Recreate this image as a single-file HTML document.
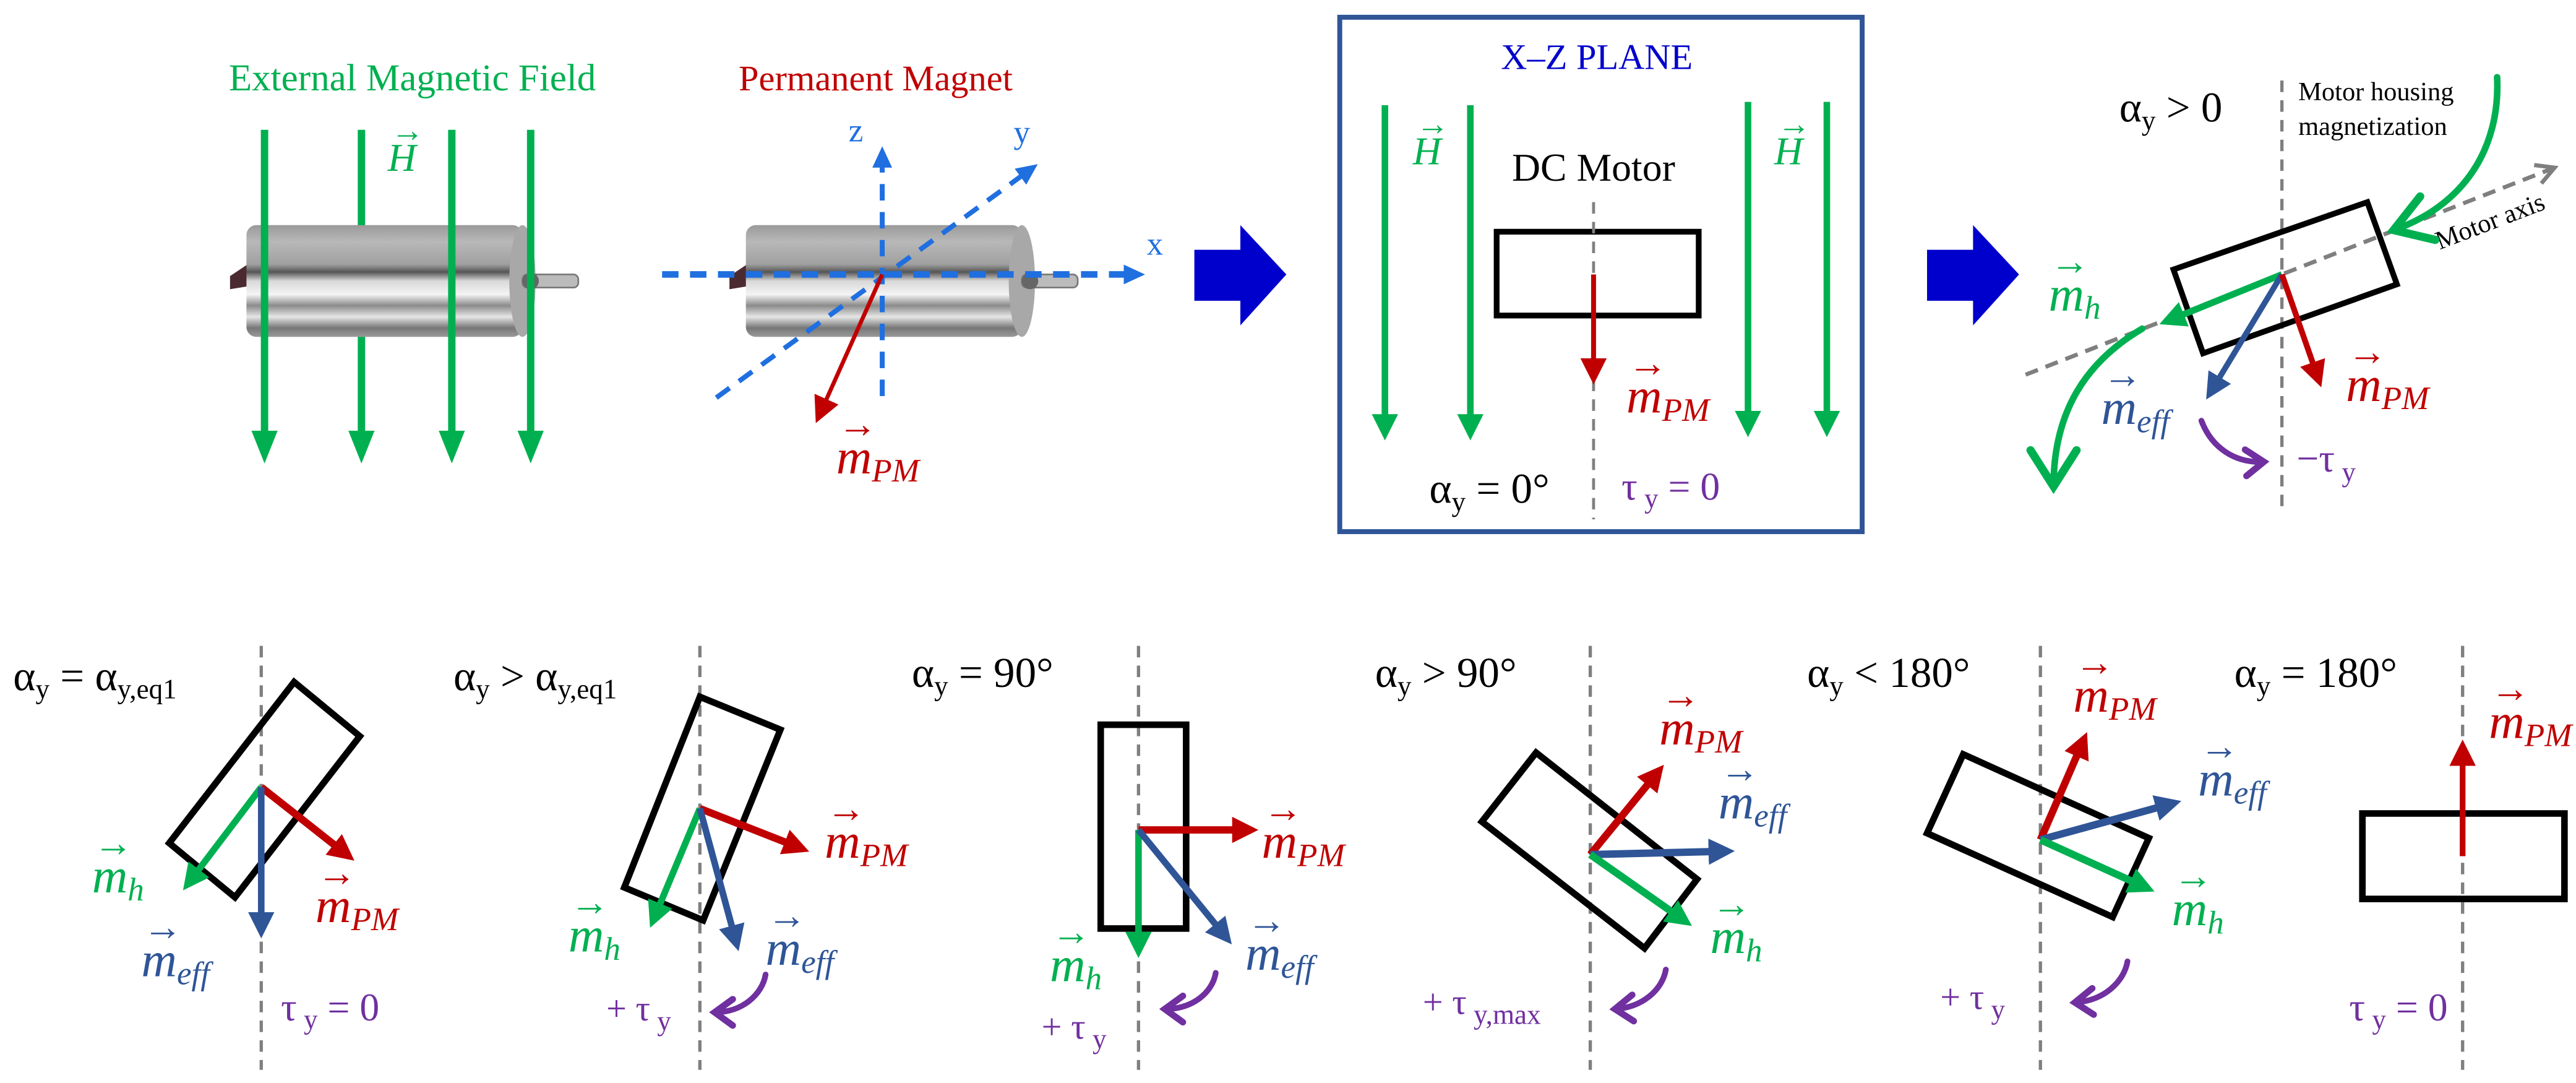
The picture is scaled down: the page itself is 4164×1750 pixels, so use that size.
<!DOCTYPE html>
<html><head><meta charset="utf-8"><style>
html,body{margin:0;padding:0;background:#fff;}
svg{display:block}
text{font-family:"Liberation Serif",serif;}
.mi{font-style:italic;font-size:30px}
.sb{font-size:20px}
.ar{font-size:24px}
.al{font-size:26px;fill:#000}
.alsub{font-size:17px}
</style></head><body>
<svg width="4164" height="1750" viewBox="0 0 1568 659" xmlns="http://www.w3.org/2000/svg">
<defs>
<marker id="mg" markerUnits="userSpaceOnUse" markerWidth="20" markerHeight="20" refX="10" refY="8" orient="auto"><path d="M0,0 L16,8 L0,16 z" fill="#00b050"/></marker>
<marker id="mr" markerUnits="userSpaceOnUse" markerWidth="20" markerHeight="20" refX="10" refY="8" orient="auto"><path d="M0,0 L16,8 L0,16 z" fill="#c00000"/></marker>
<marker id="mb" markerUnits="userSpaceOnUse" markerWidth="20" markerHeight="20" refX="10" refY="8" orient="auto"><path d="M0,0 L16,8 L0,16 z" fill="#2f5597"/></marker>
<marker id="mgl" markerUnits="userSpaceOnUse" markerWidth="22" markerHeight="20" refX="12" refY="8" orient="auto"><path d="M0,0 L20,8 L0,16 z" fill="#00b050"/></marker>
<marker id="mx" markerUnits="userSpaceOnUse" markerWidth="16" markerHeight="14" refX="6" refY="6" orient="auto"><path d="M0,0 L13,6 L0,12 z" fill="#1f6fe0"/></marker>
<marker id="mgo" markerUnits="userSpaceOnUse" markerWidth="16" markerHeight="16" refX="13" refY="8" orient="auto"><path d="M2,2 L13,8 L2,14" fill="none" stroke="#7f7f7f" stroke-width="2.5"/></marker>
<marker id="mpo" markerUnits="userSpaceOnUse" markerWidth="20" markerHeight="20" refX="15" refY="10" orient="auto"><path d="M4,2 L15,10 L4,18" fill="none" stroke="#7030a0" stroke-width="4" stroke-linecap="round"/></marker>
<marker id="mgreen" markerUnits="userSpaceOnUse" markerWidth="36" markerHeight="36" refX="28" refY="18" orient="auto"><path d="M6,4 L28,18 L6,32" fill="none" stroke="#00b050" stroke-width="5" stroke-linecap="round"/></marker>
<linearGradient id="cyl" x1="0" y1="0" x2="0" y2="1">
<stop offset="0" stop-color="#9a9a9a"/><stop offset="0.15" stop-color="#b8b8b8"/><stop offset="0.35" stop-color="#a0a0a0"/>
<stop offset="0.42" stop-color="#555"/><stop offset="0.5" stop-color="#d8d8d8"/><stop offset="0.62" stop-color="#f4f4f4"/>
<stop offset="0.72" stop-color="#8a8a8a"/><stop offset="0.82" stop-color="#e6e6e6"/><stop offset="0.92" stop-color="#777"/><stop offset="1" stop-color="#9a9a9a"/>
</linearGradient>
</defs>

<!-- ============ TOP LEFT ============ -->
<text x="251" y="55" font-size="23" fill="#00b050" text-anchor="middle">External Magnetic Field</text>
<text x="533" y="55" font-size="22" fill="#c00000" text-anchor="middle">Permanent Magnet</text>

<line x1="220" y1="79" x2="220" y2="274" stroke="#00b050" stroke-width="4.5" marker-end="url(#mgl)"/>
<g>
<path d="M140,168 L152,160 L152,174 L140,176 z" fill="#4a2a30"/>
<rect x="150" y="137" width="168" height="68" rx="6" fill="url(#cyl)"/>
<ellipse cx="318" cy="171" rx="8" ry="34" fill="#a8a8a8"/>
<rect x="318" y="167" width="34" height="8" rx="3" fill="#bbb" stroke="#777" stroke-width="1"/>
<circle cx="323" cy="171" r="5" fill="#666"/>
</g>
<line x1="161" y1="79" x2="161" y2="274" stroke="#00b050" stroke-width="4.5" marker-end="url(#mgl)"/>
<line x1="275" y1="79" x2="275" y2="274" stroke="#00b050" stroke-width="4.5" marker-end="url(#mgl)"/>
<line x1="323" y1="79" x2="323" y2="274" stroke="#00b050" stroke-width="4.5" marker-end="url(#mgl)"/>
<g fill="#00b050"><text x="236" y="104" style="font-style:italic;font-size:24px">H</text><text x="238" y="86" style="font-size:20px">→</text></g>

<g>
<path d="M444,168 L456,160 L456,174 L444,176 z" fill="#4a2a30"/>
<rect x="454" y="137" width="168" height="68" rx="6" fill="url(#cyl)"/>
<ellipse cx="622" cy="171" rx="8" ry="34" fill="#a8a8a8"/>
<rect x="622" y="167" width="34" height="8" rx="3" fill="#bbb" stroke="#777" stroke-width="1"/>
<circle cx="627" cy="171" r="5" fill="#666"/>
</g>
<g stroke="#1f6fe0" stroke-width="3" stroke-dasharray="10,7" fill="none">
<line x1="537" y1="241" x2="537" y2="96" marker-end="url(#mx)"/>
<line x1="436" y1="242" x2="626" y2="104" marker-end="url(#mx)"/>
<line x1="403" y1="167" x2="690" y2="167" stroke-width="4" marker-end="url(#mx)"/>
</g>
<text x="521" y="86" font-size="20" fill="#1f6fe0" text-anchor="middle">z</text>
<text x="622" y="87" font-size="20" fill="#1f6fe0" text-anchor="middle">y</text>
<text x="703" y="155" font-size="20" fill="#1f6fe0" text-anchor="middle">x</text>
<line x1="537" y1="167" x2="499" y2="252" stroke="#c00000" stroke-width="2.5" marker-end="url(#mr)"/>
<g fill="#c00000" transform="translate(509,288)"><text class="mi">m<tspan class="sb" dy="5">PM</tspan></text><text class="ar" x="1" y="-22">→</text></g>

<polygon points="727,152 755,152 755,137 783,167 755,198 755,183 727,183" fill="#0000cc"/>

<!-- ============ X-Z PLANE BOX ============ -->
<rect x="815.5" y="10.5" width="318" height="313" fill="none" stroke="#2f5597" stroke-width="3"/>
<text x="972" y="42" font-size="22" fill="#0000cc" text-anchor="middle">X–Z  PLANE</text>
<g stroke="#00b050" stroke-width="4">
<line x1="843" y1="64" x2="843" y2="262" marker-end="url(#mg)"/>
<line x1="895" y1="64" x2="895" y2="262" marker-end="url(#mg)"/>
<line x1="1064" y1="62" x2="1064" y2="260" marker-end="url(#mg)"/>
<line x1="1112" y1="62" x2="1112" y2="260" marker-end="url(#mg)"/>
</g>
<g fill="#00b050"><text x="860" y="100" style="font-style:italic;font-size:24px">H</text><text x="862" y="82" style="font-size:20px">→</text></g>
<g fill="#00b050"><text x="1080" y="100" style="font-style:italic;font-size:24px">H</text><text x="1082" y="82" style="font-size:20px">→</text></g>
<text x="970" y="110" font-size="24" text-anchor="middle" fill="#000">DC Motor</text>
<rect x="911" y="141" width="123" height="51" fill="none" stroke="#000" stroke-width="3.5"/>
<line x1="970" y1="123" x2="970" y2="316" stroke="#7f7f7f" stroke-width="1.8" stroke-dasharray="7,5"/>
<line x1="970" y1="167" x2="970" y2="228" stroke="#c00000" stroke-width="3" marker-end="url(#mr)"/>
<g fill="#c00000" transform="translate(990,251)"><text class="mi">m<tspan class="sb" dy="5">PM</tspan></text><text class="ar" x="1" y="-22">→</text></g>
<text x="870" y="306" class="al">α<tspan class="alsub" dy="5">y</tspan><tspan dy="-5"> = 0°</tspan></text>
<text x="987" y="304" font-size="24" fill="#7030a0">τ<tspan class="alsub" dy="5"> y</tspan><tspan dy="-5"> = 0</tspan></text>

<polygon points="1173,152 1201,152 1201,137 1229,167 1201,198 1201,183 1173,183" fill="#0000cc"/>

<!-- ============ TOP RIGHT ============ -->
<line x1="1389" y1="49" x2="1389" y2="308" stroke="#7f7f7f" stroke-width="2" stroke-dasharray="7,5"/>
<text x="1290" y="74" class="al">α<tspan class="alsub" dy="5">y</tspan><tspan dy="-5"> &gt; 0</tspan></text>
<text x="1399" y="61" font-size="16" fill="#000">Motor housing</text>
<text x="1399" y="82" font-size="16" fill="#000">magnetization</text>
<line x1="1233" y1="228" x2="1555" y2="102" stroke="#7f7f7f" stroke-width="2.5" stroke-dasharray="8,5" marker-end="url(#mgo)"/>
<text x="0" y="0" font-size="16" fill="#000" transform="translate(1485,152) rotate(-21)">Motor axis</text>
<polygon points="1323,164 1441,123 1459,173 1341,215" fill="none" stroke="#000" stroke-width="3.5"/>
<path d="M1520,47 C1522,90 1500,125 1457,140" fill="none" stroke="#00b050" stroke-width="4" stroke-linecap="round" marker-end="url(#mgreen)"/>
<path d="M1304,200 C1270,220 1250,250 1250,296" fill="none" stroke="#00b050" stroke-width="4" stroke-linecap="round" marker-end="url(#mgreen)"/>
<line x1="1389" y1="167" x2="1320" y2="195" stroke="#00b050" stroke-width="4" marker-end="url(#mg)"/>
<line x1="1389" y1="167" x2="1346" y2="238" stroke="#2f5597" stroke-width="3.5" marker-end="url(#mb)"/>
<line x1="1389" y1="167" x2="1411" y2="230" stroke="#c00000" stroke-width="3.5" marker-end="url(#mr)"/>
<g fill="#00b050" transform="translate(1247,189)"><text class="mi">m<tspan class="sb" dy="5">h</tspan></text><text class="ar" x="1" y="-22">→</text></g>
<g fill="#2f5597" transform="translate(1279,258)"><text class="mi">m<tspan class="sb" dy="5">eff</tspan></text><text class="ar" x="1" y="-22">→</text></g>
<g fill="#c00000" transform="translate(1428,244)"><text class="mi">m<tspan class="sb" dy="5">PM</tspan></text><text class="ar" x="1" y="-22">→</text></g>
<path d="M1340,256 C1346,272 1360,282 1378,281" fill="none" stroke="#7030a0" stroke-width="3.5" stroke-linecap="round" marker-end="url(#mpo)"/>
<text x="1398" y="287" font-size="24" fill="#7030a0">−τ<tspan class="alsub" dy="6"> y</tspan></text>

<!-- ============ BOTTOM ROW ============ -->
<g stroke="#7f7f7f" stroke-width="2" stroke-dasharray="7,5">
<line x1="159" y1="393" x2="159" y2="651"/>
<line x1="426" y1="393" x2="426" y2="651"/>
<line x1="693" y1="393" x2="693" y2="651"/>
<line x1="968" y1="393" x2="968" y2="651"/>
<line x1="1242" y1="393" x2="1242" y2="651"/>
<line x1="1499" y1="393" x2="1499" y2="651"/>
</g>

<!-- panel 1 -->
<text x="8" y="420" class="al">α<tspan class="alsub" dy="5">y</tspan><tspan dy="-5"> = α</tspan><tspan class="alsub" dy="5">y,eq1</tspan></text>
<polygon points="179,415 219,448 143,546 103,513" fill="none" stroke="#000" stroke-width="4"/>
<line x1="159" y1="479" x2="115" y2="537" stroke="#00b050" stroke-width="4" marker-end="url(#mg)"/>
<line x1="159" y1="479" x2="211" y2="520" stroke="#c00000" stroke-width="4.5" marker-end="url(#mr)"/>
<line x1="159" y1="479" x2="159" y2="565" stroke="#2f5597" stroke-width="4" marker-end="url(#mb)"/>
<g fill="#00b050" transform="translate(56,543)"><text class="mi">m<tspan class="sb" dy="5">h</tspan></text><text class="ar" x="1" y="-22">→</text></g>
<g fill="#c00000" transform="translate(192,561)"><text class="mi">m<tspan class="sb" dy="5">PM</tspan></text><text class="ar" x="1" y="-22">→</text></g>
<g fill="#2f5597" transform="translate(86,594)"><text class="mi">m<tspan class="sb" dy="5">eff</tspan></text><text class="ar" x="1" y="-22">→</text></g>
<text x="171" y="621" font-size="24" fill="#7030a0">τ<tspan class="alsub" dy="5"> y</tspan><tspan dy="-5"> = 0</tspan></text>

<!-- panel 2 -->
<text x="276" y="420" class="al">α<tspan class="alsub" dy="5">y</tspan><tspan dy="-5"> &gt; α</tspan><tspan class="alsub" dy="5">y,eq1</tspan></text>
<polygon points="426,424 475,444 428,560 380,540" fill="none" stroke="#000" stroke-width="4"/>
<line x1="426" y1="492" x2="398" y2="559" stroke="#00b050" stroke-width="4" marker-end="url(#mg)"/>
<line x1="426" y1="492" x2="487" y2="516" stroke="#c00000" stroke-width="4.5" marker-end="url(#mr)"/>
<line x1="426" y1="492" x2="448" y2="573" stroke="#2f5597" stroke-width="4" marker-end="url(#mb)"/>
<g fill="#c00000" transform="translate(502,522)"><text class="mi">m<tspan class="sb" dy="5">PM</tspan></text><text class="ar" x="1" y="-22">→</text></g>
<g fill="#00b050" transform="translate(346,579)"><text class="mi">m<tspan class="sb" dy="5">h</tspan></text><text class="ar" x="1" y="-22">→</text></g>
<g fill="#2f5597" transform="translate(466,587)"><text class="mi">m<tspan class="sb" dy="5">eff</tspan></text><text class="ar" x="1" y="-22">→</text></g>
<path d="M466,593 C464,605 452,616 435,616" fill="none" stroke="#7030a0" stroke-width="3.5" stroke-linecap="round" marker-end="url(#mpo)"/>
<text x="369" y="621" font-size="22" fill="#7030a0">+ τ<tspan class="alsub" dy="6"> y</tspan></text>

<!-- panel 3 -->
<text x="555" y="418" class="al">α<tspan class="alsub" dy="5">y</tspan><tspan dy="-5"> = 90°</tspan></text>
<rect x="670" y="441" width="52" height="124" fill="none" stroke="#000" stroke-width="4"/>
<line x1="693" y1="505" x2="760" y2="505" stroke="#c00000" stroke-width="4.5" marker-end="url(#mr)"/>
<line x1="693" y1="505" x2="693" y2="577" stroke="#00b050" stroke-width="4" marker-end="url(#mg)"/>
<line x1="693" y1="505" x2="746" y2="570" stroke="#2f5597" stroke-width="4" marker-end="url(#mb)"/>
<g fill="#c00000" transform="translate(768,522)"><text class="mi">m<tspan class="sb" dy="5">PM</tspan></text><text class="ar" x="1" y="-22">→</text></g>
<g fill="#00b050" transform="translate(639,597)"><text class="mi">m<tspan class="sb" dy="5">h</tspan></text><text class="ar" x="1" y="-22">→</text></g>
<g fill="#2f5597" transform="translate(758,590)"><text class="mi">m<tspan class="sb" dy="5">eff</tspan></text><text class="ar" x="1" y="-22">→</text></g>
<path d="M740,592 C738,604 726,614 709,614" fill="none" stroke="#7030a0" stroke-width="3.5" stroke-linecap="round" marker-end="url(#mpo)"/>
<text x="634" y="632" font-size="22" fill="#7030a0">+ τ<tspan class="alsub" dy="6"> y</tspan></text>

<!-- panel 4 -->
<text x="837" y="418" class="al">α<tspan class="alsub" dy="5">y</tspan><tspan dy="-5"> &gt; 90°</tspan></text>
<polygon points="935,458 1033,535 1001,577 902,500" fill="none" stroke="#000" stroke-width="4"/>
<line x1="968" y1="520" x2="1009" y2="470" stroke="#c00000" stroke-width="4.5" marker-end="url(#mr)"/>
<line x1="968" y1="520" x2="1050" y2="518" stroke="#2f5597" stroke-width="4.5" marker-end="url(#mb)"/>
<line x1="968" y1="520" x2="1025" y2="560" stroke="#00b050" stroke-width="4.5" marker-end="url(#mg)"/>
<g fill="#c00000" transform="translate(1010,453)"><text class="mi">m<tspan class="sb" dy="5">PM</tspan></text><text class="ar" x="1" y="-22">→</text></g>
<g fill="#2f5597" transform="translate(1046,498)"><text class="mi">m<tspan class="sb" dy="5">eff</tspan></text><text class="ar" x="1" y="-22">→</text></g>
<g fill="#00b050" transform="translate(1041,580)"><text class="mi">m<tspan class="sb" dy="5">h</tspan></text><text class="ar" x="1" y="-22">→</text></g>
<path d="M1014,590 C1012,602 1000,613 983,614" fill="none" stroke="#7030a0" stroke-width="3.5" stroke-linecap="round" marker-end="url(#mpo)"/>
<text x="866" y="617" font-size="22" fill="#7030a0">+ τ<tspan class="alsub" dy="6"> y,max</tspan></text>

<!-- panel 5 -->
<text x="1100" y="418" class="al">α<tspan class="alsub" dy="5">y</tspan><tspan dy="-5"> &lt; 180°</tspan></text>
<polygon points="1195,459 1308,510 1286,558 1173,507" fill="none" stroke="#000" stroke-width="4"/>
<line x1="1242" y1="511" x2="1268" y2="451" stroke="#c00000" stroke-width="4.5" marker-end="url(#mr)"/>
<line x1="1242" y1="511" x2="1322" y2="489" stroke="#2f5597" stroke-width="4.5" marker-end="url(#mb)"/>
<line x1="1242" y1="511" x2="1306" y2="540" stroke="#00b050" stroke-width="4.5" marker-end="url(#mg)"/>
<g fill="#c00000" transform="translate(1262,433)"><text class="mi">m<tspan class="sb" dy="5">PM</tspan></text><text class="ar" x="1" y="-22">→</text></g>
<g fill="#2f5597" transform="translate(1338,484)"><text class="mi">m<tspan class="sb" dy="5">eff</tspan></text><text class="ar" x="1" y="-22">→</text></g>
<g fill="#00b050" transform="translate(1322,563)"><text class="mi">m<tspan class="sb" dy="5">h</tspan></text><text class="ar" x="1" y="-22">→</text></g>
<path d="M1295,585 C1293,597 1281,609 1263,610" fill="none" stroke="#7030a0" stroke-width="3.5" stroke-linecap="round" marker-end="url(#mpo)"/>
<text x="1181" y="614" font-size="22" fill="#7030a0">+ τ<tspan class="alsub" dy="6"> y</tspan></text>

<!-- panel 6 -->
<text x="1360" y="418" class="al">α<tspan class="alsub" dy="5">y</tspan><tspan dy="-5"> = 180°</tspan></text>
<rect x="1438" y="495" width="123" height="52" fill="none" stroke="#000" stroke-width="4"/>
<line x1="1499" y1="521" x2="1499" y2="456" stroke="#c00000" stroke-width="3.5" marker-end="url(#mr)"/>
<g fill="#c00000" transform="translate(1515,449)"><text class="mi">m<tspan class="sb" dy="5">PM</tspan></text><text class="ar" x="1" y="-22">→</text></g>
<text x="1430" y="621" font-size="24" fill="#7030a0">τ<tspan class="alsub" dy="5"> y</tspan><tspan dy="-5"> = 0</tspan></text>
</svg>
</body></html>
